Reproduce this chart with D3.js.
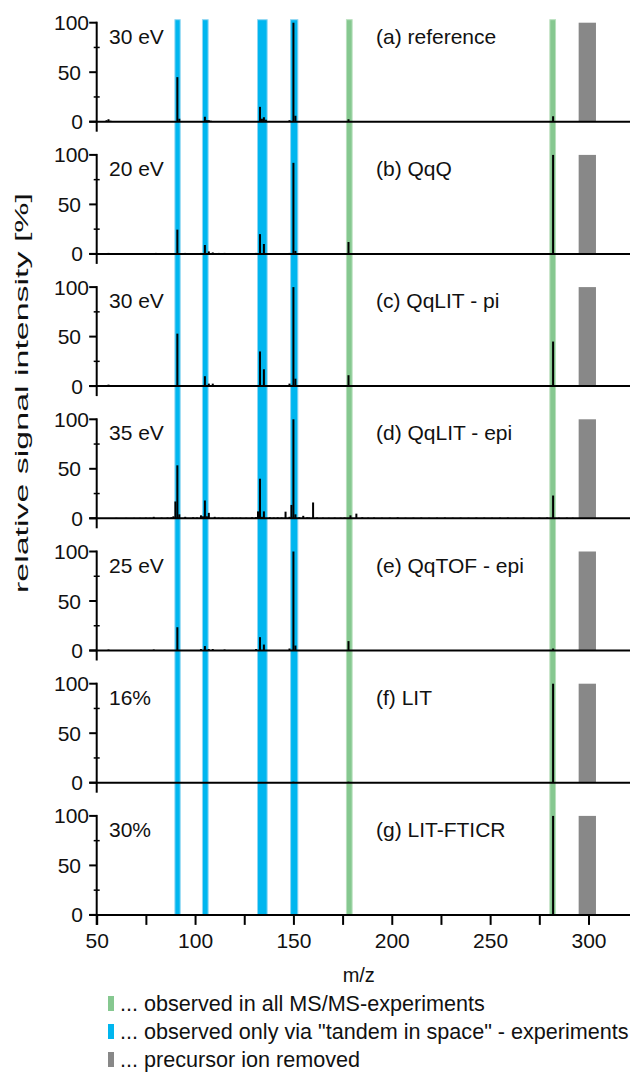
<!DOCTYPE html>
<html>
<head>
<meta charset="utf-8">
<script src="https://cdn.jsdelivr.net/npm/d3@7/dist/d3.min.js"></script>
<style>
  html, body { margin: 0; padding: 0; background: #fff; }
  svg { display: block; }
  text { font-family: "Liberation Sans", Arial, Helvetica, sans-serif; fill: #111; }
</style>
</head>
<body>
<svg id="chart" width="632" height="1075"></svg>
<script>
// ---- data -------------------------------------------------------------
const panelTitles = ["(a) reference", "(b) QqQ", "(c) QqLIT - pi", "(d) QqLIT - epi",
                     "(e) QqTOF - epi", "(f) LIT", "(g) LIT-FTICR"];
const energies = ["30 eV", "20 eV", "30 eV", "35 eV", "25 eV", "16%", "30%"];

// [m/z, relative intensity %]
const specA = [[55,1.5],[56,2.5],[57,1],[91,45],[92,3],[105,5],[106,1.5],[107,1.5],[108,1],
  [133,15],[134,3],[135,4.5],[136,2],[148,1.5],[150,100],[151,6],[178,2.5],[282,5.5]];
const specB = [[56,1],[65,0.5],[77,0.8],[80,1],[91,24.5],[95,1],[103,1],[105,9],[107,2.5],
  [109,1.5],[112,1],[115,1],[131,1],[133,20],[135,10],[148,1],[150,92],[151,3],[178,12],[282,100]];
const specC = [[56,1.5],[57,1],[91,53],[105,10],[107,2.5],[109,2.5],[133,35],[135,17],
  [148,2.5],[150,100],[151,7.5],[178,11],[282,45]];
const specD = [[60,0.5],[65,0.5],[69,0.5],[72,0.5],[75,0.7],[77,0.5],[79,1.5],[83,0.7],[86,0.8],
  [88,1],[89,2],[90,17],[91,53.5],[92,4],[95,1.5],[99,1],[101,0.8],[103,3],[104,2],[105,18],
  [106,2],[107,5.5],[110,1.5],[112,0.7],[114,0.7],[117,0.6],[119,0.7],[121,0.6],[123,0.7],
  [126,0.6],[129,1],[131,1.2],[132,7],[133,40],[134,1.5],[135,7],[138,1],[140,0.8],[142,1],
  [144,0.8],[146,6.7],[148,1.5],[149,13.5],[150,100],[151,4],[153,1],[155,2.5],[157,1],
  [158,0.8],[160,16],[162,0.8],[165,0.7],[168,0.6],[171,0.7],[174,0.6],[176,0.8],[179,3],
  [182,4.7],[185,1],[188,0.7],[191,0.8],[195,0.6],[199,0.7],[203,1],[207,0.6],[211,0.7],
  [215,0.8],[219,0.6],[223,0.7],[227,0.8],[231,0.6],[235,0.7],[239,0.6],[243,0.8],[247,0.7],
  [251,0.6],[255,0.7],[259,0.8],[263,0.6],[267,0.7],[271,0.6],[275,0.7],[279,0.8],[282,23],
  [285,0.6],[289,0.7],[292,0.6]];
const specE = [[56,1],[79,1],[91,23.5],[103,1.5],[105,4.5],[107,1.5],[109,1.5],[115,1],
  [131,1.5],[133,13.5],[135,6],[148,2],[150,100],[151,5],[178,9.5],[282,2]];
const specF = [[150,1],[178,1],[282,100]];
const specG = [[282,100]];
const spectra = [specA, specB, specC, specD, specE, specF, specG];

// highlighted m/z windows [from, to]
const tandemBands = [[89.5, 92.7], [103.5, 106.9], [131.5, 136.9], [148.3, 152.5]];
const commonBands = [[176.7, 180.1], [280.1, 283.5]];
const precursorBand = [295.0, 303.8];

const xTicks = [50, 75, 100, 125, 150, 175, 200, 225, 250, 275, 300];
const xTickLabels = [50, 100, 150, 200, 250, 300];
const yMajorTicks = [0, 50, 100];
const yMinorTicks = [25, 75];

const legendItems = [
  { key: "common", label: "... observed in all MS/MS-experiments" },
  { key: "tandem", label: "... observed only via \"tandem in space\" - experiments" },
  { key: "precursor", label: "... precursor ion removed" }
];

// ---- layout -----------------------------------------------------------
const colors = { tandem: "#00b6ef", tandemEdge: "#8fd6f3", common: "#86c890",
                 commonEdge: "#b9e0bd", precursor: "#888888" };
const svg = d3.select("#chart");
const x = d3.scaleLinear().domain([50, 321.1]).range([96.7, 630]);
const panelTop0 = 22.7, panelStep = 132.2, panelH = 99;
const panelTops = panelTitles.map((_, i) => panelTop0 + i * panelStep);
const firstTop = panelTops[0];
const lastBase = panelTops[panelTops.length - 1] + panelH;
const fs = 21;

// vertical highlight bands spanning all panels
const bands = svg.append("g");
function drawBands(list, fill, edge) {
  bands.selectAll(null).data(list).enter().append("rect")
    .attr("x", d => x(d[0]) + 0.5)
    .attr("width", d => x(d[1]) - x(d[0]) - 1)
    .attr("y", firstTop - 3)
    .attr("height", lastBase - firstTop + 3)
    .attr("fill", fill)
    .attr("stroke", edge).attr("stroke-width", 1);
}
drawBands(tandemBands, colors.tandem, colors.tandemEdge);
drawBands(commonBands, colors.common, colors.commonEdge);

// panels
spectra.forEach((spec, i) => {
  const top = panelTops[i];
  const y = d3.scaleLinear().domain([0, 100]).range([top + panelH, top]);
  const g = svg.append("g");

  // precursor region
  g.append("rect")
    .attr("x", x(precursorBand[0])).attr("width", x(precursorBand[1]) - x(precursorBand[0]))
    .attr("y", y(100)).attr("height", y(0) - y(100))
    .attr("fill", colors.precursor);

  // stick spectrum
  g.selectAll("line.peak").data(spec).enter().append("line")
    .attr("class", "peak")
    .attr("x1", d => x(d[0])).attr("x2", d => x(d[0]))
    .attr("y1", y(0)).attr("y2", d => y(d[1]))
    .attr("stroke", "#000").attr("stroke-width", 2);

  // baseline (extends slightly left like a tick)
  g.append("line")
    .attr("x1", x(50) - 7.5).attr("x2", x.range()[1])
    .attr("y1", y(0)).attr("y2", y(0))
    .attr("stroke", "#000").attr("stroke-width", 2);

  // y axis line, running a little below the baseline
  g.append("line")
    .attr("x1", x(50)).attr("x2", x(50))
    .attr("y1", y(100) - 1).attr("y2", y(0) + 10)
    .attr("stroke", "#000").attr("stroke-width", 2);

  // major and minor y ticks
  g.selectAll("line.ymaj").data(yMajorTicks).enter().append("line")
    .attr("x1", x(50) - 7.5).attr("x2", x(50))
    .attr("y1", d => y(d)).attr("y2", d => y(d))
    .attr("stroke", "#000").attr("stroke-width", 2);
  g.selectAll("line.ymin").data(yMinorTicks).enter().append("line")
    .attr("x1", x(50) - 3).attr("x2", x(50) + 3)
    .attr("y1", d => y(d)).attr("y2", d => y(d))
    .attr("stroke", "#000").attr("stroke-width", 1.5);

  const labelRight = { 0: 83, 50: 81, 100: 89 };
  g.selectAll("text.ylab").data(yMajorTicks).enter().append("text")
    .attr("x", d => labelRight[d]).attr("y", d => y(d) + 7.5)
    .attr("text-anchor", "end").attr("font-size", fs)
    .text(d => d);

  // panel annotations
  g.append("text").attr("x", 109).attr("y", top + 21)
    .attr("font-size", fs).text(energies[i]);
  g.append("text").attr("x", 376).attr("y", top + 21)
    .attr("font-size", fs).text(panelTitles[i]);
});

// bottom x axis
const xAxis = d3.axisBottom(x).tickValues(xTicks).tickSize(10)
  .tickFormat(d => xTickLabels.includes(d) ? d : "");
const ax = svg.append("g").attr("transform", `translate(0,${lastBase})`).call(xAxis);
ax.select(".domain").remove();
ax.selectAll(".tick line").attr("stroke", "#000").attr("stroke-width", 2);
ax.selectAll(".tick text").attr("font-size", fs).attr("fill", "#111")
  .attr("font-family", "Liberation Sans, Arial, sans-serif").attr("dy", "0.95em");

// axis titles
svg.append("text").attr("x", x(200) - 33).attr("y", 982)
  .attr("text-anchor", "middle").attr("font-size", 20).text("m/z");
svg.append("text")
  .attr("transform", `translate(28,393) rotate(-90)`)
  .attr("text-anchor", "middle").attr("font-size", 19)
  .attr("textLength", 400).attr("lengthAdjust", "spacingAndGlyphs")
  .text("relative signal intensity [%]");

// legend
const legend = svg.append("g");
legendItems.forEach((item, i) => {
  const cy = 1004 + i * 28;
  legend.append("rect").attr("x", 108).attr("y", cy - 8).attr("width", 6).attr("height", 15)
    .attr("fill", colors[item.key]);
  legend.append("text").attr("x", 120).attr("y", cy + 7)
    .attr("font-size", 21.6).text(item.label);
});
</script>
</body>
</html>
